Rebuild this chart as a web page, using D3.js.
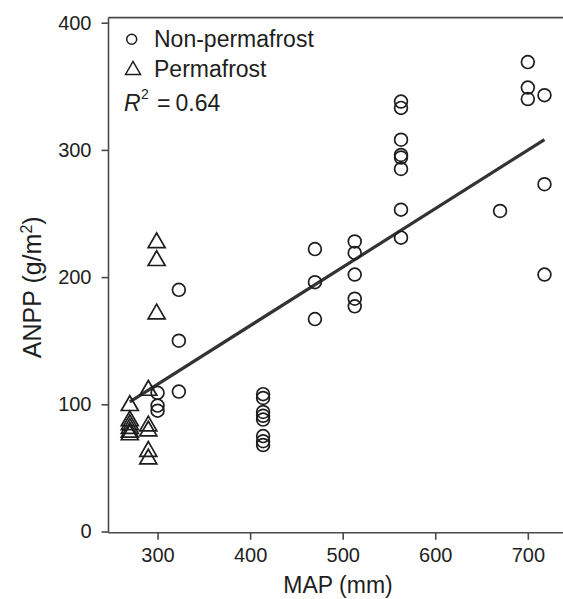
<!DOCTYPE html>
<html>
<head>
<meta charset="utf-8">
<script src="https://cdn.jsdelivr.net/npm/d3@7"></script>
<style>
  html, body { margin: 0; padding: 0; background: #fff; }
  svg { display: block; font-family: "Liberation Sans", Arial, Helvetica, sans-serif; }
</style>
</head>
<body>
<svg id="chart" width="563" height="599"></svg>
<script>
// ---- data ----
const nonPermafrostMAP  = [300, 300, 300, 323, 323, 323,
  414, 414, 414, 414, 414, 414, 414, 414,
  470, 470, 470, 513, 513, 513, 513, 513,
  563, 563, 563, 563, 563, 563, 563, 563,
  670, 700, 700, 700, 718, 718, 718];
const nonPermafrostANPP = [109, 99, 95, 190, 150, 110,
  108, 105, 94, 91, 88, 75, 71, 68,
  222, 196, 167, 228, 219, 202, 183, 177,
  338, 333, 308, 296, 294, 285, 253, 231,
  252, 369, 349, 340, 343, 273, 202];
const permafrostMAP  = [270, 270, 270, 270, 270, 270, 290, 290, 290, 290, 290, 299, 299, 299];
const permafrostANPP = [100, 88, 85, 82, 79, 77, 112, 84, 80, 64, 58, 228, 214, 172];
const fitIntercept = -22.2;   // ANPP = a + b * MAP
const fitSlope = 0.46;
const fitRange = [270, 718];
const xTicks = [300, 400, 500, 600, 700];
const yTicks = [0, 100, 200, 300, 400];
const legendLabels = ["Non-permafrost", "Permafrost"];
const r2Text = "0.64";

// ---- layout ----
const svg = d3.select("#chart");
const x = d3.scaleLinear().domain([247, 738]).range([108.5, 563]);
const y = d3.scaleLinear().domain([-1, 404]).range([532.8, 17.6]);
const ink = "#1e1e1e";
const axisCol = "#4a4a4a";

// frame: left axis, bottom axis, top border
svg.append("line").attr("x1", x(247)).attr("x2", 563).attr("y1", y(404)).attr("y2", y(404))
  .attr("stroke", axisCol).attr("stroke-width", 1.6);

const xAxis = svg.append("g").attr("transform", `translate(0,${y(-1)})`)
  .call(d3.axisBottom(x).tickValues(xTicks).tickSize(7).tickPadding(8).tickSizeOuter(0));
const yAxis = svg.append("g").attr("transform", `translate(${x(247)},0)`)
  .call(d3.axisLeft(y).tickValues(yTicks).tickSize(7).tickPadding(10).tickSizeOuter(0));
[xAxis, yAxis].forEach(g => {
  g.select(".domain").attr("stroke", axisCol).attr("stroke-width", 1.6);
  g.selectAll(".tick line").attr("stroke", axisCol).attr("stroke-width", 1.6);
  g.selectAll(".tick text").attr("fill", ink).attr("font-size", 20)
    .attr("font-family", "Liberation Sans, Arial, sans-serif");
});
xAxis.select(".domain").attr("d", `M${x(247)},0H563`);
yAxis.select(".domain").attr("d", `M0,${y(404)}V${y(-1)}`);

// axis titles
svg.append("text").attr("x", 338).attr("y", 593).attr("text-anchor", "middle")
  .attr("font-size", 23).attr("fill", ink).text("MAP (mm)");
const yt = svg.append("text").attr("transform", `translate(41,${y(192)}) rotate(-90)`)
  .attr("text-anchor", "middle").attr("font-size", 25).attr("fill", ink);
yt.append("tspan").text("ANPP (g/m");
yt.append("tspan").attr("font-size", 16).attr("dy", -9).text("2");
yt.append("tspan").attr("dy", 9).text(")");

// regression line
svg.append("line")
  .attr("x1", x(fitRange[0])).attr("y1", y(fitIntercept + fitSlope * fitRange[0]))
  .attr("x2", x(fitRange[1])).attr("y2", y(fitIntercept + fitSlope * fitRange[1]))
  .attr("stroke", "#333").attr("stroke-width", 3.2);

// triangles
const triSide = 17;
const triPath = (cx, cy, s) => {
  const h = s * Math.sqrt(3) / 2;
  return `M${cx},${cy - h * 0.58}L${cx + s / 2},${cy + h * 0.42}L${cx - s / 2},${cy + h * 0.42}Z`;
};
svg.append("g").selectAll("path").data(permafrostMAP.map((m, i) => [m, permafrostANPP[i]]))
  .join("path")
  .attr("d", d => triPath(x(d[0]), y(d[1]), triSide))
  .attr("fill", "none").attr("stroke", ink).attr("stroke-width", 1.7);

// circles
svg.append("g").selectAll("circle").data(nonPermafrostMAP.map((m, i) => [m, nonPermafrostANPP[i]]))
  .join("circle")
  .attr("cx", d => x(d[0])).attr("cy", d => y(d[1])).attr("r", 6.4)
  .attr("fill", "none").attr("stroke", ink).attr("stroke-width", 1.7);

// legend
svg.append("circle").attr("cx", 131.7).attr("cy", 39.3).attr("r", 5)
  .attr("fill", "none").attr("stroke", ink).attr("stroke-width", 1.5);
svg.append("path").attr("d", triPath(133, 69, 15))
  .attr("fill", "none").attr("stroke", ink).attr("stroke-width", 1.5);
svg.append("text").attr("x", 154).attr("y", 47).attr("font-size", 23).attr("fill", ink).text(legendLabels[0]);
svg.append("text").attr("x", 154).attr("y", 76.5).attr("font-size", 23).attr("fill", ink).text(legendLabels[1]);

// R^2 annotation
svg.append("text").attr("x", 124).attr("y", 110.5).attr("font-size", 23).attr("font-style", "italic")
  .attr("fill", ink).text("R");
svg.append("text").attr("x", 141).attr("y", 99).attr("font-size", 14).attr("fill", ink).text("2");
svg.append("text").attr("x", 157).attr("y", 110.5).attr("font-size", 23).attr("fill", ink).text("=");
svg.append("text").attr("x", 175.5).attr("y", 110.5).attr("font-size", 23).attr("fill", ink).text(r2Text);
</script>
</body>
</html>
